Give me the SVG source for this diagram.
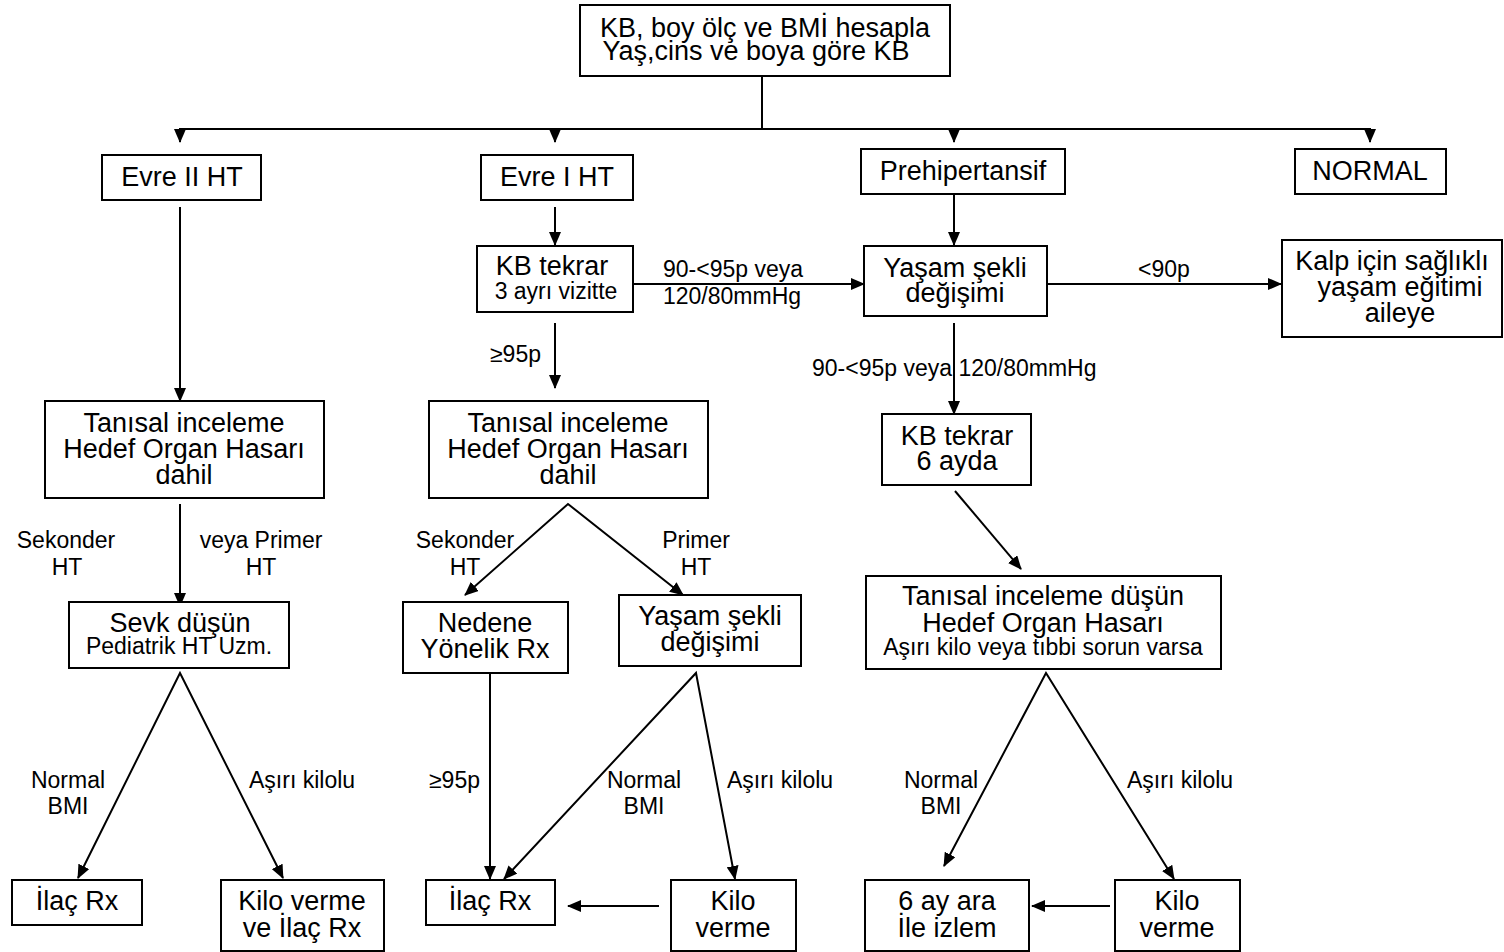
<svg xmlns="http://www.w3.org/2000/svg" width="1504" height="952" viewBox="0 0 1504 952">
<style>
.b{fill:#fff;stroke:#000;stroke-width:2}
.t{font-family:"Liberation Sans",Arial,sans-serif;font-size:27px;fill:#000;text-anchor:middle}
.s{font-family:"Liberation Sans",Arial,sans-serif;font-size:23px;fill:#000;text-anchor:middle}
.l{font-family:"Liberation Sans",Arial,sans-serif;font-size:23px;fill:#000}
.c line,.c path{stroke:#000;stroke-width:2;fill:none}
</style>
<defs>
<marker id="a" markerUnits="userSpaceOnUse" markerWidth="14" markerHeight="12" refX="13" refY="6" orient="auto-start-reverse" viewBox="0 0 14 12">
<path d="M0,0 L14,6 L0,12 z" fill="#000"/>
</marker>
</defs>
<rect width="1504" height="952" fill="#fff"/>
<g class="c" id="connectors">
<line x1="762" y1="76" x2="762" y2="129"/>
<line x1="179" y1="129" x2="1371" y2="129"/>
<line x1="180" y1="128" x2="180" y2="142" marker-end="url(#a)"/>
<line x1="555" y1="128" x2="555" y2="142" marker-end="url(#a)"/>
<line x1="954" y1="128" x2="954" y2="142" marker-end="url(#a)"/>
<line x1="1370" y1="128" x2="1370" y2="142" marker-end="url(#a)"/>
<line x1="180" y1="207" x2="180" y2="401" marker-end="url(#a)"/>
<line x1="555" y1="207" x2="555" y2="245" marker-end="url(#a)"/>
<line x1="633" y1="284" x2="864" y2="284" marker-end="url(#a)"/>
<line x1="954" y1="194" x2="954" y2="245" marker-end="url(#a)"/>
<line x1="1047" y1="284" x2="1281" y2="284" marker-end="url(#a)"/>
<line x1="555" y1="323" x2="555" y2="388" marker-end="url(#a)"/>
<line x1="954" y1="323" x2="954" y2="414" marker-end="url(#a)"/>
<line x1="955" y1="491" x2="1021" y2="569" marker-end="url(#a)"/>
<line x1="180" y1="504" x2="180" y2="606" marker-end="url(#a)"/>
<path d="M465,595 L568,504 L683,595" marker-start="url(#a)" marker-end="url(#a)"/>
<path d="M78,878 L180,673 L283,878" marker-start="url(#a)" marker-end="url(#a)"/>
<line x1="490" y1="673" x2="490" y2="879" marker-end="url(#a)"/>
<path d="M504,879 L696,673 L735,879" marker-start="url(#a)" marker-end="url(#a)"/>
<line x1="659" y1="906" x2="568" y2="906" marker-end="url(#a)"/>
<path d="M944,866 L1046,673 L1174,879" marker-start="url(#a)" marker-end="url(#a)"/>
<line x1="1110" y1="906" x2="1032" y2="906" marker-end="url(#a)"/>
</g>
<g id="labels">
<text class="l" x="663" y="277">90-&lt;95p veya</text>
<text class="l" x="663" y="304">120/80mmHg</text>
<text class="s" x="1164" y="277">&lt;90p</text>
<text class="l" x="490" y="362">≥95p</text>
<text class="l" x="812" y="376">90-&lt;95p veya 120/80mmHg</text>
<text class="s" x="66" y="548">Sekonder</text>
<text class="s" x="67" y="575">HT</text>
<text class="s" x="261" y="548">veya Primer</text>
<text class="s" x="261" y="575">HT</text>
<text class="s" x="465" y="548">Sekonder</text>
<text class="s" x="465" y="575">HT</text>
<text class="s" x="696" y="548">Primer</text>
<text class="s" x="696" y="575">HT</text>
<text class="s" x="68" y="788">Normal</text>
<text class="s" x="68" y="814">BMI</text>
<text class="l" x="249" y="788">Aşırı kilolu</text>
<text class="l" x="429" y="788">≥95p</text>
<text class="s" x="644" y="788">Normal</text>
<text class="s" x="644" y="814">BMI</text>
<text class="l" x="727" y="788">Aşırı kilolu</text>
<text class="s" x="941" y="788">Normal</text>
<text class="s" x="941" y="814">BMI</text>
<text class="l" x="1127" y="788">Aşırı kilolu</text>
</g>
<g id="n-top"><rect class="b" x="580" y="5" width="370" height="71"/>
<text class="t" x="765" y="37">KB, boy ölç ve BMİ hesapla</text>
<text class="t" x="756" y="60">Yaş,cins ve boya göre KB</text></g>
<g id="n-evre2"><rect class="b" x="102" y="155" width="159" height="45"/>
<text class="t" x="182" y="186">Evre II HT</text></g>
<g id="n-evre1"><rect class="b" x="481" y="155" width="152" height="45"/>
<text class="t" x="557" y="186">Evre I HT</text></g>
<g id="n-prehip"><rect class="b" x="861" y="149" width="204" height="45"/>
<text class="t" x="963" y="180">Prehipertansif</text></g>
<g id="n-normal"><rect class="b" x="1295" y="149" width="151" height="45"/>
<text class="t" x="1370" y="180">NORMAL</text></g>
<g id="n-kbtekrar1"><rect class="b" x="477" y="246" width="156" height="66"/>
<text class="t" x="552" y="275">KB tekrar</text>
<text class="s" x="556" y="299">3 ayrı vizitte</text></g>
<g id="n-yasam1"><rect class="b" x="864" y="246" width="183" height="70"/>
<text class="t" x="955" y="277">Yaşam şekli</text>
<text class="t" x="955" y="302">değişimi</text></g>
<g id="n-kalp"><rect class="b" x="1282" y="240" width="220" height="97"/>
<text class="t" x="1392" y="270">Kalp için sağlıklı</text>
<text class="t" x="1400" y="296">yaşam eğitimi</text>
<text class="t" x="1400" y="322">aileye</text></g>
<g id="n-tanisal1"><rect class="b" x="45" y="401" width="279" height="97"/>
<text class="t" x="184" y="432">Tanısal inceleme</text>
<text class="t" x="184" y="458">Hedef Organ Hasarı</text>
<text class="t" x="184" y="484">dahil</text></g>
<g id="n-tanisal2"><rect class="b" x="429" y="401" width="279" height="97"/>
<text class="t" x="568" y="432">Tanısal inceleme</text>
<text class="t" x="568" y="458">Hedef Organ Hasarı</text>
<text class="t" x="568" y="484">dahil</text></g>
<g id="n-kbtekrar2"><rect class="b" x="882" y="414" width="149" height="71"/>
<text class="t" x="957" y="445">KB tekrar</text>
<text class="t" x="957" y="470">6 ayda</text></g>
<g id="n-sevk"><rect class="b" x="69" y="602" width="220" height="66"/>
<text class="t" x="180" y="632">Sevk düşün</text>
<text class="s" x="179" y="654">Pediatrik HT Uzm.</text></g>
<g id="n-nedene"><rect class="b" x="403" y="602" width="165" height="71"/>
<text class="t" x="485" y="632">Nedene</text>
<text class="t" x="485" y="658">Yönelik Rx</text></g>
<g id="n-yasam2"><rect class="b" x="619" y="595" width="182" height="71"/>
<text class="t" x="710" y="625">Yaşam şekli</text>
<text class="t" x="710" y="651">değişimi</text></g>
<g id="n-tanisal3"><rect class="b" x="866" y="576" width="355" height="93"/>
<text class="t" x="1043" y="605">Tanısal inceleme düşün</text>
<text class="t" x="1043" y="632">Hedef Organ Hasarı</text>
<text class="s" x="1043" y="655">Aşırı kilo veya tıbbi sorun varsa</text></g>
<g id="n-ilac1"><rect class="b" x="12" y="880" width="130" height="45"/>
<text class="t" x="77" y="910">İlaç Rx</text></g>
<g id="n-kiloilac"><rect class="b" x="221" y="880" width="163" height="71"/>
<text class="t" x="302" y="910">Kilo verme</text>
<text class="t" x="302" y="937">ve İlaç Rx</text></g>
<g id="n-ilac2"><rect class="b" x="426" y="880" width="129" height="45"/>
<text class="t" x="490" y="910">İlaç Rx</text></g>
<g id="n-kilo2"><rect class="b" x="671" y="880" width="125" height="71"/>
<text class="t" x="733" y="910">Kilo</text>
<text class="t" x="733" y="937">verme</text></g>
<g id="n-6ay"><rect class="b" x="865" y="880" width="164" height="71"/>
<text class="t" x="947" y="910">6 ay ara</text>
<text class="t" x="947" y="937">İle izlem</text></g>
<g id="n-kilo3"><rect class="b" x="1115" y="880" width="125" height="71"/>
<text class="t" x="1177" y="910">Kilo</text>
<text class="t" x="1177" y="937">verme</text></g>
</svg>
